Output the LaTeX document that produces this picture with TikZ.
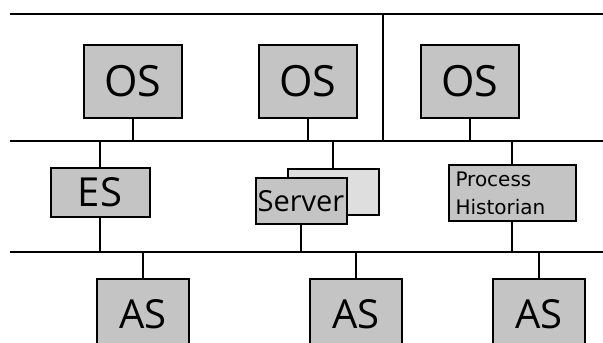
\documentclass[tikz,border=0pt]{standalone}
\usepackage{fontspec}
\setmainfont{Open Sans}
\newfontfamily\histfont{DejaVu Sans}
\definecolor{boxgray}{HTML}{C4C4C4}
\definecolor{backgray}{HTML}{DEDEDE}
\begin{document}
\begin{tikzpicture}
        [x=1pt,y=-1pt,
        every node/.style={rectangle,draw,line width=2pt,fill=boxgray,inner sep=0pt,align=center},
        station/.style={minimum width=98pt,minimum height=73pt,font=\fontsize{43}{48}\selectfont},
        eng/.style={minimum width=99pt,minimum height=49pt,font=\fontsize{40}{44}\selectfont},
        auto/.style={minimum width=92pt,minimum height=70pt,font=\fontsize{40}{44}\selectfont},
        srv/.style={minimum width=91pt,minimum height=46pt,font=\fontsize{29}{30}\selectfont},
        hist/.style={minimum width=127pt,minimum height=56pt,text width=113pt,align=left,font=\histfont\fontsize{20}{28}\selectfont},
        bus/.style={line width=2.4pt},
        link/.style={line width=2pt},
        ]
        \useasboundingbox (0,0) rectangle (603,343);
        \clip (0,0) rectangle (603,343);
        % network lines
        \coordinate (top-l) at (10,14);
        \coordinate (top-r) at (603,14);
        \coordinate (bus1-l) at (10,141);
        \coordinate (bus1-r) at (603,141);
        \coordinate (bus2-l) at (10,252);
        \coordinate (bus2-r) at (603,252);
        \coordinate (split) at (383,14);
        \draw[bus] (top-l) -- (top-r);
        \draw[bus] (bus1-l) -- (bus1-r);
        \draw[bus] (bus2-l) -- (bus2-r);
        \draw[bus] (split) -- (split |- bus1-l);
        % stations
        \node[station] (os-1) at (133,81) {OS};
        \node[station] (os-2) at (308,81) {OS};
        \node[station] (os-3) at (470,81) {OS};
        \node[eng] (es) at (100,192) {ES};
        \node[srv,fill=backgray] (server-back) at (333,192) {};
        \node[srv] (server) at (301,201) {Server};
        \node[hist] (historian) at (512,193) {Process\\Historian};
        \node[auto] (as-1) at (143,314) {AS};
        \node[auto] (as-2) at (356,314) {AS};
        \node[auto] (as-3) at (539,314) {AS};
        % links
        \draw[link] (os-1.south) -- (os-1.south |- bus1-l);
        \draw[link] (os-2.south) -- (os-2.south |- bus1-l);
        \draw[link] (os-3.south) -- (os-3.south |- bus1-l);
        \draw[link] (es.north) -- (es.north |- bus1-l);
        \draw[link] (es.south) -- (es.south |- bus2-l);
        \draw[link] (server-back.north) -- (server-back.north |- bus1-l);
        \draw[link] (server.south) -- (server.south |- bus2-l);
        \draw[link] (historian.north) -- (historian.north |- bus1-l);
        \draw[link] (historian.south) -- (historian.south |- bus2-l);
        \draw[link] (as-1.north) -- (as-1.north |- bus2-l);
        \draw[link] (as-2.north) -- (as-2.north |- bus2-l);
        \draw[link] (as-3.north) -- (as-3.north |- bus2-l);
    \end{tikzpicture}
\end{document}
